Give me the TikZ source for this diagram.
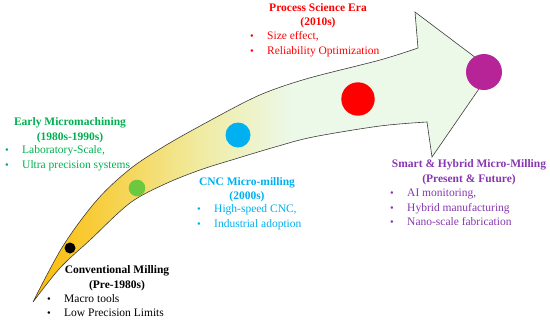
\documentclass[tikz,border=0pt]{standalone}
\usepackage{fontspec}
\setmainfont{Liberation Serif}
\usepackage{xcolor}
\usetikzlibrary{arrows.meta, calc}

\definecolor{eraRed}{RGB}{255,0,0}
\definecolor{eraGreen}{RGB}{0,176,80}
\definecolor{eraCyan}{RGB}{0,176,240}
\definecolor{eraPurple}{RGB}{135,55,175}
\definecolor{dotGreen}{RGB}{108,200,62}
\definecolor{dotPurple}{RGB}{182,36,152}
\definecolor{bandGold}{RGB}{252,190,12}
\definecolor{bandYellow}{RGB}{247,208,70}
\definecolor{bandPale}{RGB}{240,235,160}
\definecolor{bandMint}{RGB}{236,248,232}
\definecolor{edgeGray}{RGB}{60,60,60}

\pgfdeclarehorizontalshading{bandfill}{100bp}{color(0bp)=(bandGold); color(26bp)=(bandGold); color(33bp)=(bandYellow); color(43bp)=(bandPale); color(53bp)=(bandMint); color(100bp)=(bandMint)}

\newcommand{\bulitem}[1]{\makebox[17pt][l]{\fontsize{10.5}{10.5}\selectfont\textbullet}#1}

\begin{document}
\begin{tikzpicture}[x=1pt, y=-1pt,
    stagetitle/.style={font=\fontsize{11.5}{14.5}\selectfont\bfseries, align=center, inner sep=0pt},
    stagelist/.style={font=\fontsize{11.5}{14.5}\selectfont, align=left, anchor=west, inner sep=0pt}]
    \useasboundingbox (0,0) rectangle (550,322);

    % Draw curved arrow band
    \shadedraw[shading=bandfill, draw=edgeGray, line width=0.6pt, line join=miter]
        plot[smooth, tension=0.55] coordinates {(33,302) (63,246) (97,200) (130,169) (163,147) (200,126) (247,101) (275,89) (313,77) (380,60) (418,48)}
        -- (415,12) -- (492,70) -- (432,157) -- (427,122)
        -- plot[smooth, tension=0.55] coordinates {(427,122) (380,126) (313,137) (275,147) (235,159) (200,170) (165,184) (130,203) (90,240) (60,268) (33,302)}
        -- cycle;

    % Milestone dots
    \foreach \cx/\cy/\r/\c in {70/248/5.5/black, 137/188/8.3/dotGreen, 238/135/12.5/eraCyan, 358/99/16.7/eraRed, 484/72/18/dotPurple}
        \fill[\c] (\cx,\cy) circle (\r);

    % Process Science Era
    \node[stagetitle, eraRed] (procTitle) at (318,15.5) {Process Science Era\\(2010s)};
    \node[stagelist, eraRed] (procList) at (250,44) {\bulitem{Size effect,}\\\bulitem{Reliability Optimization}};

    % Early Micromachining
    \node[stagetitle, eraGreen] (earlyTitle) at (70,130) {Early Micromachining\\(1980s-1990s)};
    \node[stagelist, eraGreen] (earlyList) at (5,158) {\bulitem{Laboratory-Scale,}\\\bulitem{Ultra precision systems}};

    % CNC Micro-milling
    \node[stagetitle, eraCyan] (cncTitle) at (247,189.5) {CNC Micro-milling\\(2000s)};
    \node[stagelist, eraCyan] (cncList) at (197,217) {\bulitem{High-speed CNC,}\\\bulitem{Industrial adoption}};

    % Smart & Hybrid Micro-Milling
    \node[stagetitle, eraPurple] (smartTitle) at (469,172) {Smart \& Hybrid Micro-Milling\\(Present \& Future)};
    \node[stagelist, eraPurple] (smartList) at (390,207.5) {\bulitem{AI monitoring,}\\\bulitem{Hybrid manufacturing}\\\bulitem{Nano-scale fabrication}};

    % Conventional Milling
    \node[stagetitle] (convTitle) at (117,278) {Conventional Milling\\(Pre-1980s)};
    \node[stagelist] (convList) at (47,305.5) {\bulitem{Macro tools}\\\bulitem{Low Precision Limits}};
\end{tikzpicture}
\end{document}
